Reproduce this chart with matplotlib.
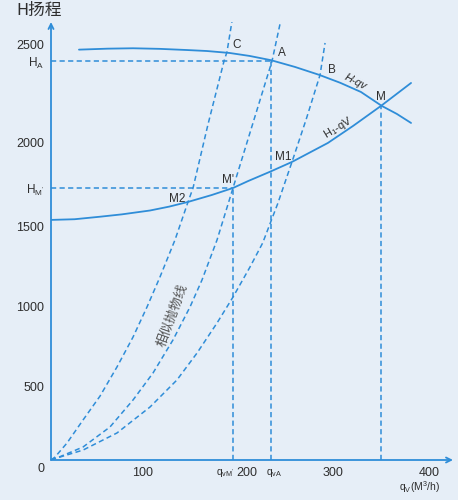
import numpy as np
import matplotlib
matplotlib.use("Agg")
import matplotlib.pyplot as plt
from matplotlib.transforms import ScaledTranslation

plt.rcParams['font.family'] = ['Liberation Sans', 'Noto Sans CJK SC', 'DejaVu Sans']
plt.rcParams['mathtext.fontset'] = 'custom'
plt.rcParams['mathtext.rm'] = 'Liberation Sans'
plt.rcParams['mathtext.it'] = 'Liberation Sans:italic'

# ---------------- data ----------------
# pump curve H-qv
pump_q = [29.6, 60, 86.8, 115, 144, 165, 189, 210, 233, 258, 284, 306, 328, 350, 366, 381]
pump_H = [2476, 2481, 2483, 2480, 2474, 2469, 2459, 2444, 2422, 2388, 2347, 2307, 2260, 2189, 2148, 2102]

# system curve H1-qV
sys_q = [0, 25, 51.9, 75, 104.8, 125, 145, 170, 192.6, 208.5, 232.3, 255, 293, 320, 349.2, 381]
sys_H = [1542, 1546, 1561, 1575, 1598, 1621, 1649, 1690, 1732, 1773, 1830, 1887, 2000, 2088, 2189, 2306]

# similarity parabolas (through M2-C, M'-A, M1-B)
simC_q = [0, 4.2, 16.9, 33.9, 51.9, 69.8, 86.8, 101.6, 115.3, 131.2, 145.0, 150.3, 166.1, 183.1, 186.2, 192.6]
simC_H = [0, 20, 116, 274, 438, 625, 812, 1000, 1187, 1419, 1649, 1732, 2094, 2418, 2464, 2653]

simA_q = [0, 6.3, 33.9, 62.4, 86.8, 107.9, 129.1, 147.1, 159.8, 175.7, 192.6, 221.2, 233.9, 246.5]
simA_H = [0, 14, 89, 226, 411, 587, 794, 1000, 1169, 1419, 1732, 2219, 2418, 2700]

simB_q = [0, 6.3, 33.9, 69.8, 104.8, 133.3, 154.5, 175.7, 192.6, 210.6, 224.0, 240.0, 255.0, 270.0, 284.7, 290.0]
simB_H = [0, 14, 68, 185, 363, 544, 712, 900, 1062, 1250, 1400, 1640, 1887, 2120, 2347, 2510]

# key operating points
q_vA, H_A = 232.3, 2418
q_vM1, H_M1 = 192.6, 1732     # point M'
q_M, H_M = 349.2, 2189

# axis ticks
y_ticks = [500, 1000, 1500, 2000, 2500]
x_ticks = [100, 200, 300, 400]

# piecewise scale of the drawing's head axis (value -> drawn height)
scale_vals = [-1000, 0, 500, 1000, 1500, 2000, 2500, 5000]
scale_pos = [-137, 0, 73, 153, 233, 317, 415, 905]

def fwd(v):
    return np.interp(v, scale_vals, scale_pos)

def inv(p):
    return np.interp(p, scale_pos, scale_vals)

# ---------------- styling ----------------
BLUE = '#2f8dd8'
TEXT = '#2e2e2e'
BG = '#e6eef7'

fig = plt.figure(figsize=(4.58, 5.0), dpi=100, facecolor=BG)
ax = fig.add_axes([51/458, 40/500, 402/458, 438/500])
ax.set_facecolor(BG)
ax.set_yscale('function', functions=(fwd, inv))
ax.set_xlim(0, 425.4)
ax.set_ylim(0, 2617)

dash = dict(color=BLUE, lw=1.1, linestyle=(0, (3.4, 2.2)))

# curves
ax.plot(pump_q, pump_H, color=BLUE, lw=1.3, solid_capstyle='round', solid_joinstyle='round')
ax.plot(sys_q, sys_H, color=BLUE, lw=1.3, solid_capstyle='round', solid_joinstyle='round')
for qq, hh in [(simC_q, simC_H), (simA_q, simA_H), (simB_q, simB_H)]:
    ax.plot(qq, hh, **dash)

# guide lines
ax.plot([0, q_vA], [H_A, H_A], **dash)
ax.plot([q_vA, q_vA], [0, H_A], **dash)
ax.plot([0, q_vM1], [H_M1, H_M1], **dash)
ax.plot([q_vM1, q_vM1], [0, H_M1], **dash)
ax.plot([q_M, q_M], [0, H_M], **dash)

# axes with arrows
for s in ax.spines.values():
    s.set_visible(False)
ax.annotate('', xy=(1.0, 0), xytext=(0, 0), xycoords='axes fraction',
            arrowprops=dict(arrowstyle='->', color=BLUE, lw=1.3, shrinkA=0, shrinkB=0,
                            mutation_scale=9))
ax.annotate('', xy=(0, 1.0), xytext=(0, 0), xycoords='axes fraction',
            arrowprops=dict(arrowstyle='->', color=BLUE, lw=1.3, shrinkA=0, shrinkB=0,
                            mutation_scale=9))

# ticks
ax.set_yticks(y_ticks + [H_A, H_M1])
ax.set_yticklabels([str(v) for v in y_ticks] + [r'H$_\mathregular{A}$', r"H$_\mathregular{M'}$"])
ax.set_xticks(x_ticks + [q_vM1, q_vA])
ax.set_xticklabels([str(v) for v in x_ticks] + [r"q$_\mathregular{vM'}$", r'q$_\mathregular{vA}$'])
ax.tick_params(axis='both', length=0, colors=TEXT, labelsize=9)
ax.tick_params(axis='y', pad=5)
ax.tick_params(axis='x', pad=5)
ax.minorticks_off()
for lab in ax.get_yticklabels()[-2:]:
    lab.set_fontsize(8.5)
xl = ax.get_xticklabels()
shifts = [-3, 7, -1, 0, -8, 4]
for lab, dx in zip(xl, shifts):
    lab.set_transform(lab.get_transform() + ScaledTranslation(dx/100, 0, fig.dpi_scale_trans))
for lab in xl[-2:]:
    lab.set_fontsize(7.5)

ax.annotate('0', xy=(0, 0), xytext=(-10, -9), textcoords='offset pixels',
            ha='center', va='center', fontsize=9, color=TEXT, annotation_clip=False)
ax.annotate(r'q$_\mathregular{V}$(M$^\mathregular{3}$/h)', xy=(390.5, 0), xytext=(0, -27),
            textcoords='offset pixels', ha='center', va='center', fontsize=7.5,
            color=TEXT, annotation_clip=False)
fig.text(39/458, 1 - 10/500, 'H扬程', ha='center', va='center', fontsize=12,
         color=TEXT, family=['Noto Sans CJK SC', 'DejaVu Sans'])

# point labels
lab_kw = dict(color=TEXT, fontsize=8.5, ha='center', va='center')
ax.text(196.8, 2500, 'C', **lab_kw)
ax.text(244.4, 2459, 'A', **lab_kw)
ax.text(297.4, 2372, 'B', **lab_kw)
ax.text(349.2, 2235, 'M', **lab_kw)
ax.text(245.5, 1917, 'M1', **lab_kw)
ax.text(187.3, 1780, "M'", **lab_kw)
ax.text(133.3, 1667, 'M2', **lab_kw)
ax.text(322.7, 2311, 'H-qv', color=TEXT, fontsize=8, ha='center', va='center',
        rotation=-27, style='italic')
ax.text(303.7, 2077, r'H$_\mathregular{1}$-qV', color=TEXT, fontsize=8, ha='center',
        va='center', rotation=31)
ax.text(129.1, 950, '相似抛物线', color='#555555', fontsize=9.5, ha='center', va='center',
        rotation=70, family=['Noto Sans CJK SC', 'DejaVu Sans'])

fig.savefig('out.png', dpi=100, facecolor=BG)
